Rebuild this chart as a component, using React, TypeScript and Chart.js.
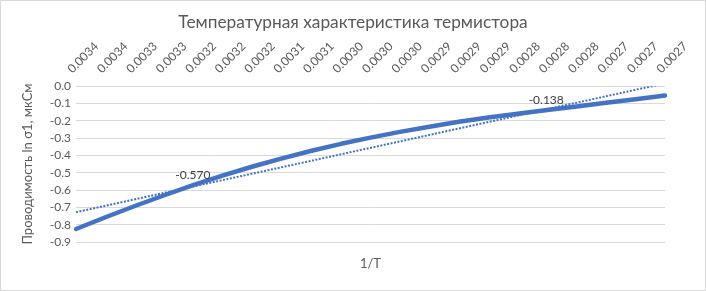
import React, { useEffect, useRef } from 'react';
import { Chart, registerables } from 'chart.js';

Chart.register(...registerables);

// ---- Data ----
const xLabels = [
  '0.0034', '0.0034', '0.0033', '0.0033', '0.0032', '0.0032', '0.0032',
  '0.0031', '0.0031', '0.0030', '0.0030', '0.0030', '0.0029', '0.0029',
  '0.0029', '0.0028', '0.0028', '0.0028', '0.0027', '0.0027', '0.0027',
];
const conductivity = [
  -0.825, -0.757, -0.692, -0.63, -0.57, -0.515, -0.464, -0.417, -0.373, -0.333,
  -0.297, -0.264, -0.234, -0.206, -0.181, -0.159, -0.138, -0.117, -0.096, -0.075, -0.054,
];
// linear trendline end values (at first and last category)
const trendStart = -0.728;
const trendEnd = 0.016;
// categories that carry a data label
const labelledPoints = [4, 16];
const yMin = -0.9;
const yMax = 0;
const yStep = 0.1;

const TITLE = 'Температурная характеристика термистора';
const Y_TITLE = 'Проводимость ln σ1, мкСм';
const X_TITLE = '1/T';

const FONT = 'Lato, "Open Sans", "DejaVu Sans", sans-serif';
const TEXT = '#595959';
const BLUE = '#4472C4';

const frame = {
  id: 'frame',
  beforeDraw(chart: any) {
    const { ctx, width, height } = chart;
    ctx.save();
    ctx.fillStyle = '#ffffff';
    ctx.fillRect(0, 0, width, height);
    ctx.strokeStyle = '#D9D9D9';
    ctx.lineWidth = 1;
    ctx.strokeRect(0.5, 0.5, width - 1, height - 1);
    ctx.restore();
  },
};

const dataLabels = {
  id: 'dataLabels',
  afterDatasetsDraw(chart: any) {
    const { ctx } = chart;
    const meta = chart.getDatasetMeta(0);
    ctx.save();
    ctx.font = `12px ${FONT}`;
    ctx.fillStyle = '#404040';
    ctx.textAlign = 'center';
    ctx.textBaseline = 'alphabetic';
    labelledPoints.forEach((i) => {
      const el = meta.data[i];
      if (!el) return;
      ctx.fillText(conductivity[i].toFixed(3), el.x - 1, el.y - 6);
    });
    ctx.restore();
  },
};

export default function App() {
  const ref = useRef<HTMLCanvasElement | null>(null);

  useEffect(() => {
    if (!ref.current) return;
    const last = conductivity.length - 1;
    const trend = conductivity.map((_, i) => (i === 0 ? trendStart : i === last ? trendEnd : null));
    const chart = new Chart(ref.current, {
      type: 'line',
      data: {
        labels: xLabels,
        datasets: [
          {
            data: conductivity,
            borderColor: BLUE,
            backgroundColor: BLUE,
            borderWidth: 4.5,
            pointRadius: 0,
            borderCapStyle: 'round',
            borderJoinStyle: 'round',
            fill: false,
            tension: 0,
            xAxisID: 'x',
            yAxisID: 'y',
          },
          {
            data: trend as any,
            borderColor: BLUE,
            borderWidth: 2,
            borderDash: [2, 1.5],
            pointRadius: 0,
            spanGaps: true,
            fill: false,
            xAxisID: 'x',
            yAxisID: 'y',
          },
        ],
      },
      options: {
        animation: false,
        responsive: false,
        devicePixelRatio: 1,
        layout: { padding: 0 },
        plugins: {
          legend: { display: false },
          tooltip: { enabled: false },
          title: {
            display: true,
            text: TITLE,
            color: TEXT,
            font: { family: FONT, size: 17.3, weight: 'normal' },
            padding: { top: 12, bottom: 4 },
          },
        },
        scales: {
          x: {
            type: 'category',
            position: 'top',
            offset: false,
            grid: { display: false, drawTicks: false },
            border: { display: false },
            ticks: {
              autoSkip: false,
              maxRotation: 45,
              minRotation: 45,
              padding: 12,
              color: TEXT,
              font: { family: FONT, size: 12, lineHeight: 0.74 },
            },
            afterFit(s: any) {
              s.height = 49.4;
            },
          },
          x2: {
            type: 'category',
            position: 'bottom',
            offset: false,
            grid: { display: false, drawTicks: false },
            border: { display: false },
            ticks: { display: false },
            title: {
              display: true,
              text: X_TITLE,
              color: TEXT,
              font: { family: FONT, size: 13 },
              padding: { top: 0, bottom: 19 },
            },
            afterFit(s: any) {
              s.height = 49;
            },
          },
          y: {
            type: 'linear',
            min: yMin,
            max: yMax,
            grid: { color: '#D9D9D9', lineWidth: 1, drawTicks: false },
            border: { display: false },
            ticks: {
              stepSize: yStep,
              autoSkip: false,
              padding: 5,
              color: TEXT,
              font: { family: FONT, size: 12 },
              callback: (v: any) => (Math.abs(Number(v)) < 1e-9 ? '0.0' : Number(v).toFixed(1)),
            },
            title: {
              display: true,
              text: Y_TITLE,
              color: TEXT,
              font: { family: FONT, size: 13 },
              padding: { top: 20, bottom: 0 },
            },
            afterFit(s: any) {
              s.width = 76;
            },
          },
          yR: {
            type: 'linear',
            position: 'right',
            grid: { display: false, drawTicks: false },
            border: { display: false },
            ticks: { display: false },
            afterFit(s: any) {
              s.width = 41;
            },
          },
        },
      },
      plugins: [frame, dataLabels],
    });
    return () => chart.destroy();
  }, []);

  return (
    <div style={{ position: 'absolute', left: 0, top: 0, width: 706, height: 291 }}>
      <canvas ref={ref} width={706} height={291} style={{ display: 'block' }} />
    </div>
  );
}
